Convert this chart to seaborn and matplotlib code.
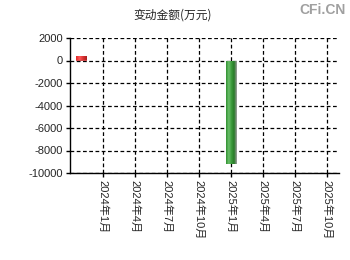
import matplotlib
matplotlib.use("Agg")
import matplotlib.pyplot as plt
import seaborn as sns
import pandas as pd
import numpy as np
from matplotlib.colors import LinearSegmentedColormap

# Data
months = ["2023年10月", "2023年11月", "2023年12月",
          "2024年1月", "2024年2月", "2024年3月", "2024年4月", "2024年5月", "2024年6月",
          "2024年7月", "2024年8月", "2024年9月", "2024年10月", "2024年11月", "2024年12月",
          "2025年1月", "2025年2月", "2025年3月", "2025年4月", "2025年5月", "2025年6月",
          "2025年7月", "2025年8月", "2025年9月", "2025年10月", "2025年11月"]
bar_months = ["2023年11月", "2025年1月"]
bar_values = [400, -9200]
tick_labels = ["2024年1月", "2024年4月", "2024年7月", "2024年10月",
               "2025年1月", "2025年4月", "2025年7月", "2025年10月"]
y_ticks = [2000, 0, -2000, -4000, -6000, -8000, -10000]

sns.set_style("white")
plt.rcParams['font.family'] = ['Liberation Sans', 'Noto Sans CJK SC', 'DejaVu Sans']

df = pd.DataFrame({"month": bar_months, "value": bar_values,
                   "sign": ["pos" if v >= 0 else "neg" for v in bar_values]})

fig = plt.figure(figsize=(3.5, 2.6), dpi=100)
ax = fig.add_axes([70/350, 1-173/260, (339-70)/350, (173-38)/260])

sns.barplot(data=df, x="month", y="value", hue="sign", order=months,
            palette={"pos": "#e83a3a", "neg": "#3f9c3f"}, width=1.0,
            dodge=False, legend=False, ax=ax, edgecolor="none")

ax.set_xlim(-0.1, 25.15)
ax.set_ylim(-10000, 2000)

# cylindrical shading on bars
cmaps = {
    "pos": LinearSegmentedColormap.from_list("r", ["#e02828", "#ff5a5a", "#d83030", "#a82020"]),
    "neg": LinearSegmentedColormap.from_list("g", ["#2f8f2f", "#6cc06c", "#3a9a3a", "#287a28", "#a0a0a0"]),
}
grad = np.linspace(0, 1, 64).reshape(1, -1)
for p in list(ax.patches):
    h = p.get_height()
    if h == 0 or np.isnan(h):
        continue
    x0, y0, w = p.get_x(), p.get_y(), p.get_width()
    cm = cmaps["pos" if h > 0 else "neg"]
    im = ax.imshow(grad, cmap=cm, aspect="auto",
                   extent=[x0, x0 + w, min(y0, y0 + h), max(y0, y0 + h)],
                   zorder=p.get_zorder() + 0.1, interpolation="bilinear")
    im.set_clip_path(p)
ax.set_xlim(-0.1, 25.15)
ax.set_ylim(-10000, 2000)

tick_pos = [months.index(t) for t in tick_labels]
ax.set_xticks(tick_pos)
ax.set_xticklabels(tick_labels, rotation=-90, fontsize=8, va="top", ha="center")
ax.set_yticks(y_ticks)
ax.set_yticklabels([str(v) for v in y_ticks], fontsize=8)
ax.set_xlabel("")
ax.set_ylabel("")

ax.grid(True, color="black", linestyle=(0, (3, 2)), linewidth=0.9)
ax.set_axisbelow(True)
for s in ["top", "right"]:
    ax.spines[s].set_visible(False)
for s in ["left", "bottom"]:
    ax.spines[s].set_color("black")
    ax.spines[s].set_linewidth(1.0)
ax.tick_params(axis="both", which="both", direction="out", length=3, width=1,
               color="black", pad=2, left=True, bottom=True)

fig.text(173/350, 1-15/260, "变动金额(万元)", ha="center", va="center", fontsize=8.5,
         family=['Noto Sans CJK SC', 'DejaVu Sans'])
fig.text(346/350, 1-10/260, "CFi.CN", ha="right", va="center", fontsize=10,
         color="#a0a0a0", fontweight="bold")

fig.savefig("out.png", dpi=100)
